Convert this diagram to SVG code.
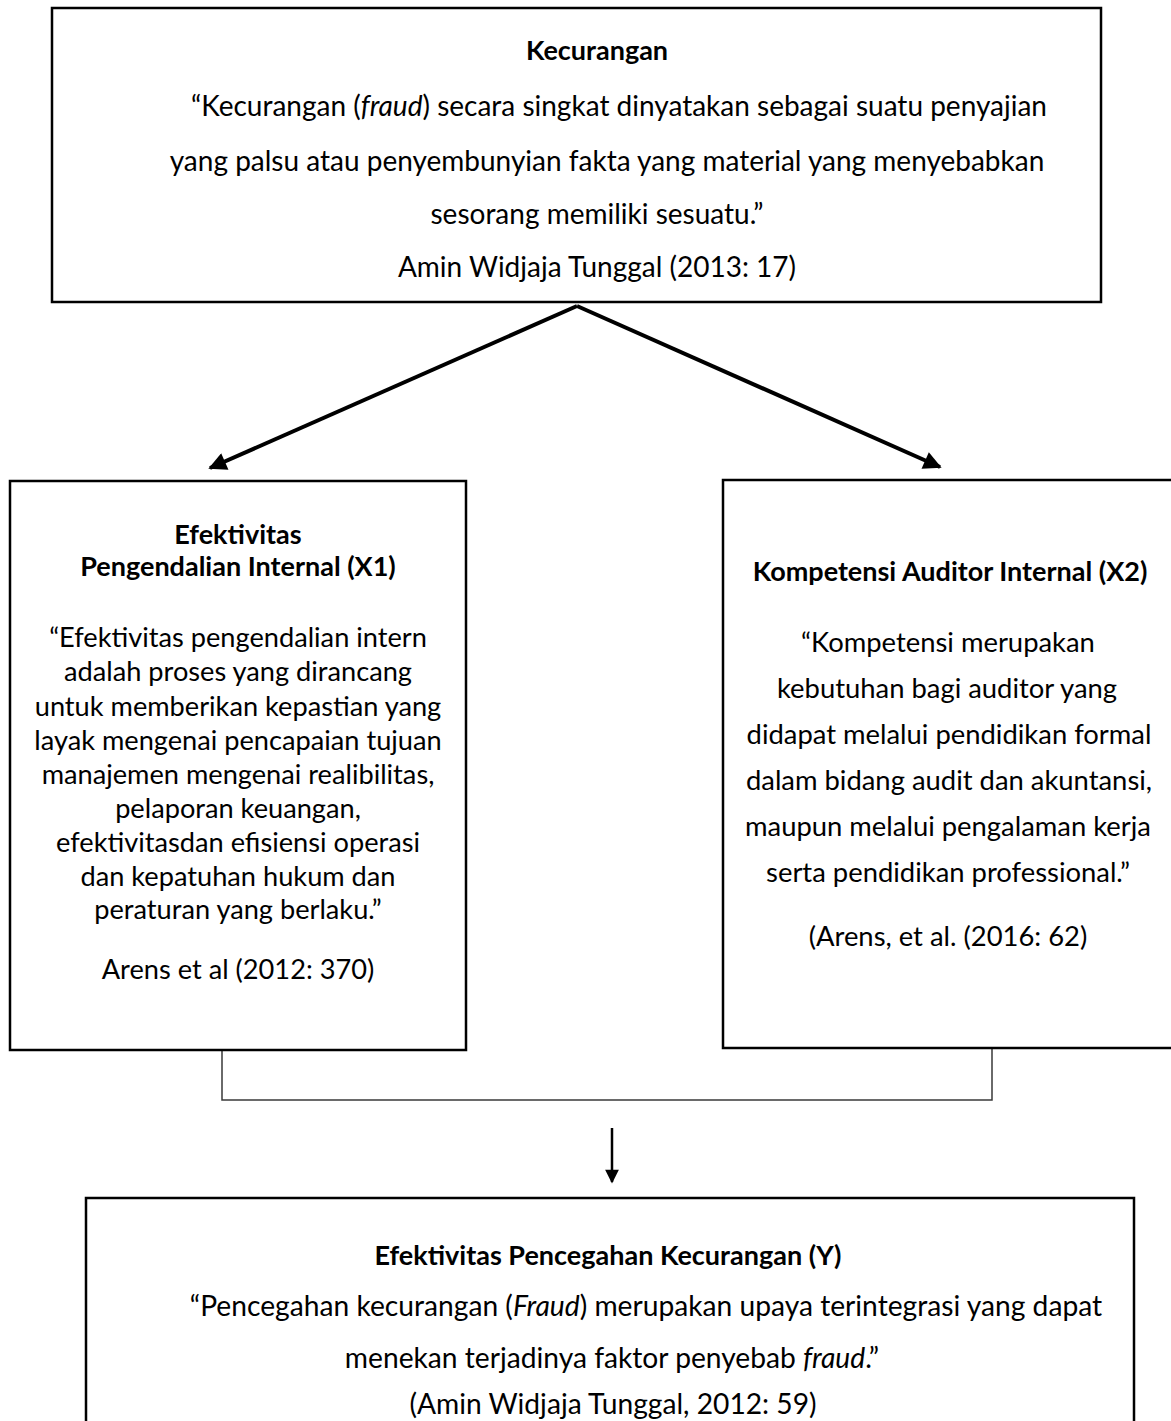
<svg xmlns="http://www.w3.org/2000/svg" width="1171" height="1421" viewBox="0 0 1171 1421">
<style>
.box{fill:#fff;stroke:#000;stroke-width:2.5}
.t{font-family:Lato,"Liberation Sans",sans-serif;fill:#000;text-anchor:middle}
.top{font-size:28px}
.x1{font-size:27.2px}
.x2{font-size:27.4px}
.yb{font-size:28.2px}
.b{font-weight:bold;font-size:27px}
.i{font-style:italic}
.arr{stroke:#000;stroke-width:4;fill:none}
.con{stroke:#3a3a3a;stroke-width:1.5;fill:none}
</style>
<defs>
<marker id="ah" viewBox="0 0 10 10" refX="9" refY="5" markerWidth="5" markerHeight="4.5" orient="auto" markerUnits="strokeWidth">
<path d="M0,0 L10,5 L0,10 z" fill="#000"/>
</marker>
<marker id="ah2" viewBox="0 0 10 10" refX="9" refY="5" markerWidth="8" markerHeight="5.5" orient="auto" markerUnits="strokeWidth">
<path d="M0,0 L10,5 L0,10 z" fill="#000"/>
</marker>
</defs>
<rect width="1171" height="1421" fill="#fff"/>
<g id="connectors">
<line class="arr" x1="577" y1="306" x2="210" y2="468" marker-end="url(#ah)"/>
<line class="arr" x1="577" y1="306" x2="940" y2="467" marker-end="url(#ah)"/>
<polyline class="con" points="222,1050 222,1100 992,1100 992,1048"/>
<line x1="612" y1="1128" x2="612" y2="1182" stroke="#000" stroke-width="2.5" marker-end="url(#ah2)"/>
</g>
<g id="node-kecurangan">
<rect class="box" x="52" y="8" width="1049" height="294"/>
<text class="t b" x="597" y="60">Kecurangan</text>
<text class="t top" x="619" y="116">“Kecurangan (<tspan class="i">fraud</tspan>) secara singkat dinyatakan sebagai suatu penyajian</text>
<text class="t top" x="607" y="171">yang palsu atau penyembunyian fakta yang material yang menyebabkan</text>
<text class="t top" x="597" y="224">sesorang memiliki sesuatu.”</text>
<text class="t top" x="597" y="277">Amin Widjaja Tunggal (2013: 17)</text>
</g>
<g id="node-x1">
<rect class="box" x="10" y="481" width="456" height="569"/>
<text class="t b" x="238" y="544">Efektivitas</text>
<text class="t b" x="238" y="576">Pengendalian Internal (X1)</text>
<text class="t x1" x="238" y="647">“Efektivitas pengendalian intern</text>
<text class="t x1" x="238" y="681">adalah proses yang dirancang</text>
<text class="t x1" x="238" y="716">untuk memberikan kepastian yang</text>
<text class="t x1" x="238" y="750">layak mengenai pencapaian tujuan</text>
<text class="t x1" x="238" y="784">manajemen mengenai realibilitas,</text>
<text class="t x1" x="238" y="818">pelaporan keuangan,</text>
<text class="t x1" x="238" y="852">efektivitasdan efisiensi operasi</text>
<text class="t x1" x="238" y="886">dan kepatuhan hukum dan</text>
<text class="t x1" x="238" y="919">peraturan yang berlaku.”</text>
<text class="t x1" x="238" y="979">Arens et al (2012: 370)</text>
</g>
<g id="node-x2">
<rect class="box" x="723" y="480" width="460" height="568"/>
<text class="t b" x="950" y="581">Kompetensi Auditor Internal (X2)</text>
<text class="t x2" x="948" y="652">“Kompetensi merupakan</text>
<text class="t x2" x="947" y="698">kebutuhan bagi auditor yang</text>
<text class="t x2" x="949" y="744">didapat melalui pendidikan formal</text>
<text class="t x2" x="949" y="790">dalam bidang audit dan akuntansi,</text>
<text class="t x2" x="948" y="836">maupun melalui pengalaman kerja</text>
<text class="t x2" x="948" y="882">serta pendidikan professional.”</text>
<text class="t x2" x="948" y="946">(Arens, et al. (2016: 62)</text>
</g>
<g id="node-y">
<rect class="box" x="86" y="1198" width="1048" height="240"/>
<text class="t b" x="608" y="1265">Efektivitas Pencegahan Kecurangan (Y)</text>
<text class="t yb" x="646" y="1316">“Pencegahan kecurangan (<tspan class="i">Fraud</tspan>) merupakan upaya terintegrasi yang dapat</text>
<text class="t yb" x="612" y="1368">menekan terjadinya faktor penyebab <tspan class="i">fraud</tspan>.”</text>
<text class="t yb" x="613" y="1414">(Amin Widjaja Tunggal, 2012: 59)</text>
</g>
</svg>
